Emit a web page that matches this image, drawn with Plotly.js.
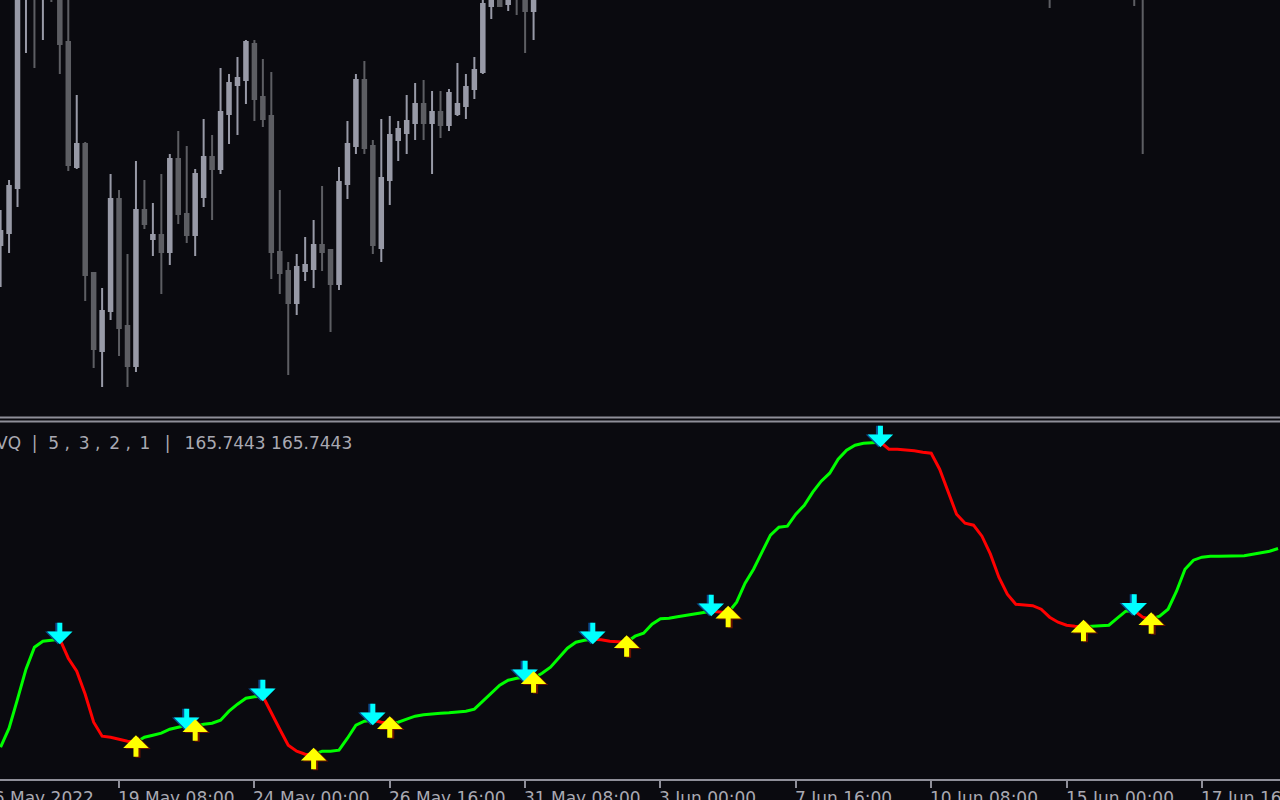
<!DOCTYPE html>
<html><head><meta charset="utf-8">
<script src="https://cdn.plot.ly/plotly-3.0.1.min.js"></script>
<style>html,body{margin:0;padding:0;background:#0a0a0f;overflow:hidden}#chart{width:1280px;height:800px}</style>
</head><body><div id="chart"></div>
<script>
// H4 bars, index 0 = 17 May 2022 00:00
const barOpen = [159.05,159.17,159.62,161.70,161.88,161.74,161.92,161.80,161.08,159.83,160.06,158.77,157.99,158.39,159.51,158.24,157.84,159.40,159.11,159.15,158.98,159.91,159.36,159.15,159.53,159.93,159.81,160.36,160.65,160.70,161.06,160.53,160.34,158.98,158.79,158.47,158.79,158.81,159.05,159.00,158.66,159.66,160.04,160.70,160.04,159.02,159.70,160.10,160.17,160.27,160.46,160.27,160.38,160.25,160.36,160.44,160.61,160.78,161.44,161.70,161.46,161.72,161.62,161.39,161.80,161.95,162.20,162.05,162.40,162.65,162.50,162.85,163.10,162.90,162.70,162.95,163.25,163.40,163.70,163.55,163.80,164.10,163.95,164.30,164.20,164.55,164.40,164.80,165.20,165.60,165.45,165.90,166.30,166.10,166.55,166.90,167.20,167.05,167.50,167.85,167.60,168.10,168.40,168.20,168.55,168.30,167.90,168.05,167.70,167.40,167.65,167.20,166.70,166.30,166.55,166.00,165.60,165.20,164.70,164.30,163.80,163.40,163.10,162.80,162.55,162.20,162.45,162.70,162.95,163.20,163.05,163.40,163.70,163.95,164.20,163.60,162.90,163.50,163.90,164.30,164.70,165.10,165.40,165.25,165.55,165.80,165.60,165.35,165.65,165.90,165.70,165.95];
const barHigh = [159.40,159.70,161.85,162.02,161.96,162.04,162.08,161.88,161.56,160.55,160.08,158.78,158.62,159.76,159.60,158.96,159.89,159.70,159.47,159.76,159.96,160.19,160.04,159.81,160.31,160.15,160.82,160.76,160.93,161.10,161.10,160.91,160.78,159.60,158.88,158.96,159.13,159.30,159.64,159.00,159.83,160.29,160.76,160.89,160.10,160.31,160.34,160.29,160.55,160.67,160.70,160.59,160.59,160.61,160.87,160.76,160.93,161.62,161.80,161.84,161.85,161.80,161.76,161.92,162.08,162.32,162.30,162.52,162.78,162.80,162.98,163.24,163.18,163.02,163.08,163.36,163.52,163.85,163.82,163.94,164.24,164.18,164.42,164.40,164.68,164.62,164.94,165.34,165.75,165.70,166.02,166.44,166.38,166.68,167.04,167.35,167.30,167.62,167.98,167.94,168.24,168.56,168.48,168.70,168.64,168.38,168.20,168.12,167.80,167.78,167.72,167.30,166.82,166.68,166.62,166.10,165.72,165.30,164.82,164.40,163.92,163.52,163.22,162.94,162.70,162.58,162.82,163.08,163.34,163.28,163.52,163.84,164.08,164.34,164.35,163.85,163.62,164.02,164.44,164.82,165.24,165.52,165.48,165.68,165.94,165.88,165.70,165.78,166.02,165.98,166.08,166.04];
const barLow = [158.63,158.97,159.43,160.97,160.82,161.10,161.48,160.76,159.79,159.81,158.49,157.82,157.63,158.30,157.94,157.63,157.78,159.21,158.94,158.56,158.85,159.26,159.07,158.94,159.43,159.30,159.76,160.06,160.15,160.46,160.29,160.23,158.71,158.56,157.75,158.35,158.69,158.62,158.79,158.18,158.60,159.51,159.96,159.96,158.96,158.88,159.45,159.89,159.96,160.10,160.10,159.76,160.12,160.19,160.34,160.31,160.51,160.76,161.31,161.44,161.39,161.35,160.97,161.10,161.62,161.78,161.90,161.96,162.28,162.36,162.42,162.70,162.78,162.55,162.58,162.84,163.12,163.30,163.42,163.46,163.70,163.82,163.88,164.06,164.12,164.28,164.32,164.72,165.10,165.30,165.38,165.82,165.96,166.02,166.46,166.80,166.92,166.98,167.40,167.46,167.52,168.00,168.06,168.12,168.18,167.76,167.82,167.58,167.26,167.32,167.06,166.58,166.16,166.22,165.86,165.48,165.06,164.58,164.16,163.66,163.28,162.96,162.66,162.40,161.42,162.08,162.34,162.58,162.84,162.92,162.98,163.30,163.60,163.86,161.44,159.96,162.78,163.40,163.80,164.20,164.60,165.00,165.12,165.16,165.46,165.48,165.24,165.28,165.56,165.60,165.62,165.66];
const barClose = [159.19,159.64,161.72,161.88,161.74,161.92,161.80,161.06,159.85,160.06,158.75,158.01,158.39,159.51,158.22,157.84,159.40,159.26,159.15,158.98,159.91,159.36,159.15,159.76,159.93,159.81,160.38,160.67,160.72,161.08,160.51,160.31,158.98,158.77,158.47,158.83,158.85,159.05,158.98,158.66,159.68,160.06,160.70,160.02,159.05,159.72,160.15,160.21,160.29,160.46,160.27,160.38,160.25,160.57,160.46,160.63,160.80,161.46,161.70,161.44,161.72,161.62,161.39,161.80,161.95,162.20,162.05,162.40,162.65,162.50,162.85,163.10,162.90,162.70,162.95,163.25,163.40,163.70,163.55,163.80,164.10,163.95,164.30,164.20,164.55,164.40,164.80,165.20,165.60,165.45,165.90,166.30,166.10,166.55,166.90,167.20,167.05,167.50,167.85,167.60,168.10,168.40,168.20,168.55,168.30,167.90,168.05,167.70,167.40,167.65,167.20,166.70,166.30,166.55,166.00,165.60,165.20,164.70,164.30,163.80,163.40,163.10,162.80,162.55,162.20,162.45,162.70,162.95,163.20,163.05,163.40,163.70,163.95,164.20,163.60,162.90,163.50,163.90,164.30,164.70,165.10,165.40,165.25,165.55,165.80,165.60,165.35,165.65,165.90,165.70,165.95,165.74];

// VQ indicator line values, one per bar
const vqValues = [161.77,162.15,162.73,163.33,163.77,163.89,163.91,163.93,163.55,163.29,162.83,162.27,161.99,161.97,161.93,161.89,161.87,161.97,162.01,162.05,162.13,162.17,162.21,162.19,162.23,162.25,162.31,162.49,162.63,162.75,162.78,162.79,162.45,162.13,161.81,161.69,161.63,161.62,161.69,161.69,161.71,161.95,162.21,162.29,162.31,162.27,162.25,162.27,162.33,162.39,162.42,162.44,162.45,162.46,162.47,162.49,162.53,162.69,162.87,163.01,163.11,163.15,163.17,163.15,163.25,163.37,163.57,163.75,163.87,163.91,163.93,163.92,163.89,163.88,163.87,163.99,164.05,164.23,164.34,164.35,164.38,164.41,164.44,164.47,164.49,164.47,164.46,164.67,165.05,165.33,165.67,166.01,166.17,166.19,166.43,166.61,166.87,167.09,167.25,167.53,167.71,167.81,167.85,167.86,167.87,167.73,167.73,167.72,167.70,167.67,167.65,167.33,166.89,166.43,166.25,166.21,165.99,165.63,165.17,164.83,164.63,164.61,164.60,164.53,164.37,164.27,164.21,164.19,164.18,164.19,164.19,164.21,164.35,164.49,164.50,164.37,164.33,164.39,164.53,164.89,165.33,165.51,165.57,165.59,165.59,165.59,165.59,165.60,165.63,165.66,165.69,165.7443];

const sellSignalBars = [7,22,31,44,62,70,84,104,134];
const buySignalBars  = [16,23,37,46,63,74,86,128,136];

const tickBars   = [-2,14,30,46,62,78,94,110,126,142];
const tickLabels = ['16 May 2022','19 May 08:00','24 May 00:00','26 May 16:00','31 May 08:00','3 Jun 00:00','7 Jun 16:00','10 Jun 08:00','15 Jun 00:00','17 Jun 16:00'];
const indicatorLabel = 'VQ\u00a0 |\u00a0 5 ,\u2009 3 ,\u2009 2 ,\u2009 1\u00a0\u2009 |\u00a0\u2009 165.7443 165.7443';

const barIndex = barOpen.map((_, i) => i);

const R0 = -0.0709, R1 = 151.229;
const toPaperX = i => (i - R0) / (R1 - R0);

const BULL = '#989aa7', BEAR = '#5d5e63';
const GREEN = '#00ff00', RED = '#ff0000';
const LABEL = '#a9a9b2';
const FONT = 'DejaVu Sans';

const traces = [{
  type: 'candlestick', x: barIndex, open: barOpen, high: barHigh, low: barLow, close: barClose,
  xaxis: 'x', yaxis: 'y',
  increasing: {line: {color: BULL, width: 2}, fillcolor: BULL},
  decreasing: {line: {color: BEAR, width: 2}, fillcolor: BEAR},
  whiskerwidth: 0, hoverinfo: 'skip'
}];

// indicator runs: green from buy to sell signal, red from sell to buy
const sellSet = new Set(sellSignalBars), buySet = new Set(buySignalBars);
let rising = true, runStart = 0;
const runs = [];
for (let i = 1; i < vqValues.length; i++) {
  if (rising && sellSet.has(i)) { runs.push([runStart, i, true]); runStart = i; rising = false; }
  else if (!rising && buySet.has(i)) { runs.push([runStart, i, false]); runStart = i; rising = true; }
}
runs.push([runStart, vqValues.length - 1, rising]);
runs.forEach(([s, e, up]) => traces.push({
  type: 'scatter', mode: 'lines', x: barIndex.slice(s, e + 1), y: vqValues.slice(s, e + 1),
  xaxis: 'x', yaxis: 'y2', line: {color: up ? GREEN : RED, width: 3}, hoverinfo: 'skip'
}));

const annotations = [];
function arrow(i, down, color, dx, dy) {
  return {x: i, y: vqValues[i], xref: 'x', yref: 'y2', text: '', showarrow: true,
    arrowhead: 1, arrowwidth: 5, arrowsize: 0.85, arrowcolor: color,
    ax: 0, ay: down ? -23 : 23, xshift: dx, yshift: (down ? -5 : 7) + dy};
}
sellSignalBars.forEach(i => annotations.push(arrow(i, true, '#0b4a8c', -2, 0)));
buySignalBars.forEach(i => annotations.push(arrow(i, false, '#6a1200', 2, -1)));
sellSignalBars.forEach(i => annotations.push(arrow(i, true, '#00ffff', 0, 0)));
buySignalBars.forEach(i => annotations.push(arrow(i, false, '#ffff00', 0, 0)));

annotations.push({xref: 'paper', yref: 'paper', x: -0.0047, y: 1 - 443 / 779, xanchor: 'left', yanchor: 'middle',
  text: indicatorLabel, showarrow: false, font: {family: FONT, size: 17, color: LABEL}});

// time-axis labels sit to the right of their tick, as in the terminal
tickBars.forEach((b, k) => annotations.push({xref: 'paper', yref: 'paper', x: toPaperX(b), y: 0,
  xanchor: 'left', yanchor: 'top', xshift: -3, yshift: -7, text: tickLabels[k], showarrow: false,
  font: {family: FONT, size: 17, color: LABEL}}));

const sepColor = '#8f8f99';
const layout = {
  width: 1280, height: 800,
  margin: {l: 0, r: 0, t: 0, b: 21},
  paper_bgcolor: '#0a0a0f', plot_bgcolor: '#0a0a0f',
  showlegend: false, boxgap: 0.41,
  xaxis: {range: [R0, R1], anchor: 'y2', showgrid: false, zeroline: false,
    showline: true, linecolor: sepColor, linewidth: 2,
    ticks: 'outside', ticklen: 7, tickwidth: 2, tickcolor: sepColor,
    tickmode: 'array', tickvals: tickBars, ticktext: tickLabels, showticklabels: false,
    rangeslider: {visible: false}, fixedrange: true},
  yaxis: {domain: [1 - 416 / 779, 1], range: [157.34, 161.50], visible: false, fixedrange: true},
  yaxis2: {domain: [0, (779 - 423) / 779], range: [161.134, 168.254], visible: false, fixedrange: true},
  shapes: [
    {type: 'line', xref: 'paper', yref: 'paper', x0: 0, x1: 1, y0: 1 - 417.5 / 779, y1: 1 - 417.5 / 779, line: {color: sepColor, width: 2}},
    {type: 'line', xref: 'paper', yref: 'paper', x0: 0, x1: 1, y0: 1 - 421.5 / 779, y1: 1 - 421.5 / 779, line: {color: sepColor, width: 2}}
  ],
  annotations: annotations
};
Plotly.newPlot('chart', traces, layout, {displayModeBar: false, staticPlot: true});
</script>
</body></html>
